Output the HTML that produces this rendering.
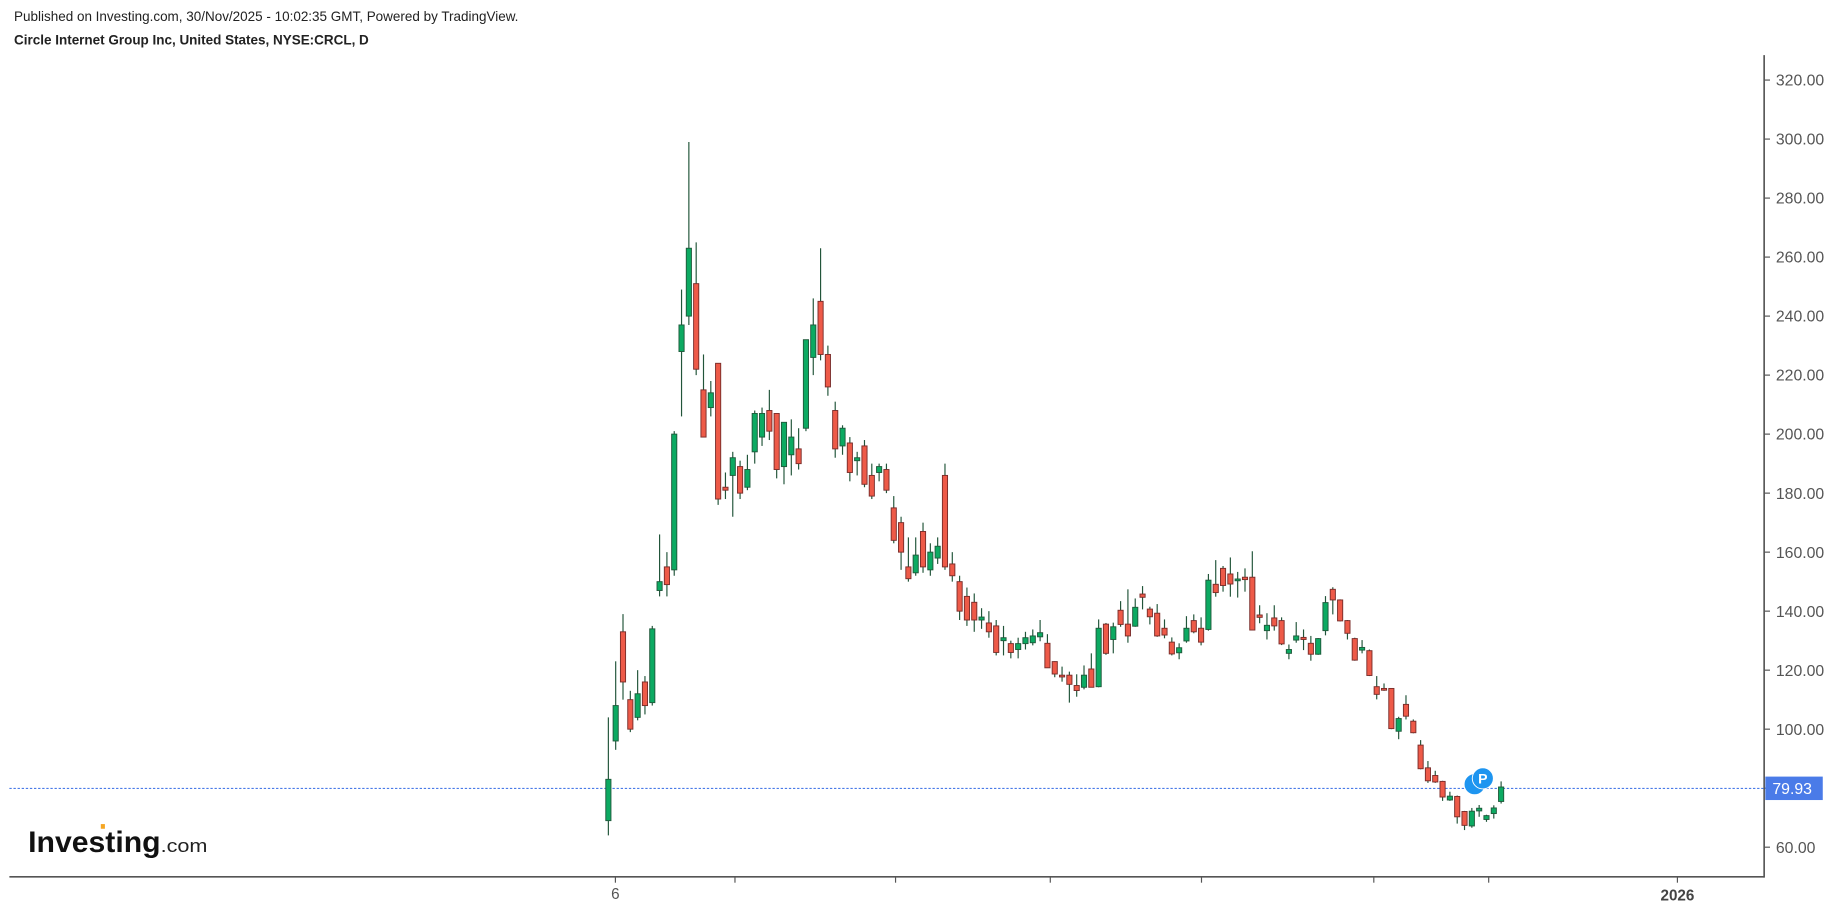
<!DOCTYPE html>
<html><head><meta charset="utf-8"><style>
html,body{margin:0;padding:0;background:#fff;}
svg{display:block;}
text{font-family:"Liberation Sans",Arial,sans-serif;}
</style></head><body>
<svg id="s" width="1838" height="910" viewBox="0 0 1568 776.3" preserveAspectRatio="none" xmlns="http://www.w3.org/2000/svg">
<rect width="1568" height="776.3" fill="#fff"/>
<text x="12" y="18" font-size="11.5" fill="#222">Published on Investing.com, 30/Nov/2025 - 10:02:35 GMT, Powered by TradingView.</text>
<text x="12" y="38" font-size="11.5" font-weight="bold" fill="#222">Circle Internet Group Inc, United States, NYSE:CRCL, D</text>
<line x1="8" y1="748" x2="1505" y2="748" stroke="#555" stroke-width="1.4"/>
<line x1="1505" y1="47" x2="1505" y2="748.7" stroke="#555" stroke-width="1.4"/>
<g id="ax"></g>
<line x1="8" y1="672.6" x2="1505" y2="672.6" stroke="#4a7be8" stroke-width="0.9" stroke-dasharray="2,1.5"/>
<g id="c"></g>
<circle cx="1258" cy="669" r="9" fill="#1e95f0" stroke="#fff" stroke-width="0.8"/>
<circle cx="1265" cy="664" r="9" fill="#1e95f0" stroke="#fff" stroke-width="0.8"/>
<text x="1265" y="668.5" font-size="12" font-weight="bold" fill="#fff" text-anchor="middle">P</text>
<rect x="1506" y="662.5" width="49" height="20" fill="#4a7be8"/>
<text x="1512" y="677.5" font-size="13.5" fill="#fff">79.93</text>
<text x="24" y="727" font-size="25" font-weight="bold" fill="#111" textLength="113" lengthAdjust="spacingAndGlyphs">Investing</text>
<text x="137" y="727" font-size="16" fill="#222" textLength="40" lengthAdjust="spacingAndGlyphs">.com</text>
<rect x="86" y="703" width="3.5" height="4" fill="#f5a623"/>
<text x="525" y="767" font-size="13" fill="#555" text-anchor="middle">6</text>
<text x="1431" y="768" font-size="13" font-weight="bold" fill="#444" text-anchor="middle">2026</text>
</svg>
<script>
var NS="http://www.w3.org/2000/svg";
function el(p,t,a){var e=document.createElementNS(NS,t);for(var k in a)e.setAttribute(k,a[k]);p.appendChild(e);return e;}
function Y(p){return 68.3+(320-p)*2.517;}
var ax=document.getElementById('ax');
for(var v=60;v<=320;v+=20){
 var y=Y(v);
 el(ax,'line',{x1:1505,y1:y,x2:1510,y2:y,stroke:'#555','stroke-width':1});
 if(v!==80){var t=el(ax,'text',{x:1515,y:y+4.8,'font-size':13.5,fill:'#555'});t.textContent=v.toFixed(2);}
}
[525,627,764,896,1025,1172,1270,1431].forEach(function(x){el(ax,'line',{x1:x,y1:748,x2:x,y2:753,stroke:'#555','stroke-width':1});});
var d=[
[69,104,64,83],[96,123,93,108],[133,139,110,116],[110,113,99,100],[104,120,103,112],[116,118,105,108],[109,135,108,134],[147,166,145,150],[155,160,145,149],[154,201,152,200],
[228,249,206,237],[240,299,237,263],[251,265,220,222],[215,227,199,199],[209,218,206,214],[224,224,176,178],[182,187,178,181],[186,194,172,192],[189,191,178,180],[182,193,181,188],
[194,208,190,207],[199,209,196,207],[208,215,198,201],[207,207,185,188],[189,204,183,204],[193,205,186,199],[195,202,188,190],[202,232,201,232],[226,246,220,237],[245,263,225,227],
[227,230,213,216],[208,211,192,195],[196,203,193,202],[197,199,184,187],[191,194,186,192],[196,198,182,183],[186,190,178,179],[187,190,184,189],[188,190,180,181],[175,179,163,164],
[170,172,154,160],[155,165,150,151],[153,165,152,159],[167,170,153,155],[154,163,152,160],[158,165,156,162],[186,190,154,155],[156,160,150,152],[150,152,137,140],[145,148,135,137],
[143,146,133,137],[137,141,134,138],[136,140,131,133],[135,137,125,126],[130,135,125,131],[129,130,124,126],[127,131,124,129],[129,133,127,131],
[129.3,133.8,128.4,131.6],[131.3,137,129.8,132.7],[129.1,132.2,120.8,120.8],[122.9,123,117.6,118.7],[118.3,121.2,116.1,117.7],[118.3,119.5,109,115.2],[114.8,118.6,111,113.1],[114.2,121.6,113.5,118.3],[120.4,125.7,114.2,114.2],[114.4,137.2,114.2,134.2],
[135.6,136,125.2,125.7],[130.4,136.1,125.7,134.7],[140.3,143.4,134.7,135.5],[135.6,147.4,129.3,131.6],[134.9,144.3,134.7,141.3],[145.8,148.5,140.6,144.7],[140.7,141.5,135.5,138.1],[139.3,142.4,131.3,131.6],[134.2,137.2,130.8,131.9],[129.5,131.1,125,125.5],
[125.9,129.1,123.7,127.6],[129.9,138.3,129.3,134.2],[136.8,138.9,132.5,133],[134.2,137.9,128.4,129.5],[133.8,152.6,133.4,150.5],[149.1,157.3,144.9,146.3],[154.5,155.3,146.6,148.7],[152.6,158.2,144.9,149.2],[150.5,153.3,144.6,150.9],[151.5,154.5,146.6,150.7],
[151.5,160.3,133.6,133.6],[138.7,142,135.9,137.9],[133.4,139.3,130.4,135.2],[137.7,142,133.4,135],[136.8,137.9,128.5,128.9],[125.7,128.7,123.7,127],[130.2,136.3,129.3,131.6],[131.1,133.8,126.8,130.4],[129.1,131.6,123.2,125.4],[125.4,130.9,125.2,130.7],
[133.4,145.1,131.8,142.9],[147.4,148.1,138.9,143.8],[143.8,144,136.5,136.7],[136.8,137,130.4,132.5],[130.7,131,123.2,123.4],[126.8,130.2,125.7,127.7],[126.6,127,118,118.2],[114.4,118,110.1,111.8],[113.8,115.5,113,113.5],[113.8,113.8,100,100.2],
[99.3,104.2,96.6,103.6],[108.4,111.5,103.3,104.4],[102.7,103.3,98.6,98.8],[94.6,96.3,86.4,86.6],[86.9,89.2,81.8,82.5],[84.3,85.9,81.8,82.1],[82.3,82.5,75.7,77],[76,78.8,75.7,77.3],[77.2,77.5,68,70.3],[72.1,72.3,65.8,67.4],
[67.2,73.3,66.6,72.2],[72.3,74.3,70.3,73.2],[69.4,71,68.6,70.7],[71.4,74.2,69.7,73.3],[75.5,82.3,74.8,80.4]
];
var g=document.getElementById('c');var n=d.length;var step=(1280.6-519)/(n-1);
d.forEach(function(k,i){
 var x=519+i*step,o=k[0],h=k[1],l=k[2],c=k[3],up=c>=o;
 el(g,'line',{x1:x,y1:Y(h),x2:x,y2:Y(l),stroke:'#22553a','stroke-width':1});
 var t=Y(Math.max(o,c)),b=Y(Math.min(o,c));if(b-t<1.5){b=t+1.5;}
 el(g,'rect',{x:x-2.2,y:t,width:4.4,height:b-t,fill:up?'#0caa62':'#ee5a48',stroke:up?'#1f5a3b':'#7a2d2a','stroke-width':0.8});
});
</script>
</body></html>
